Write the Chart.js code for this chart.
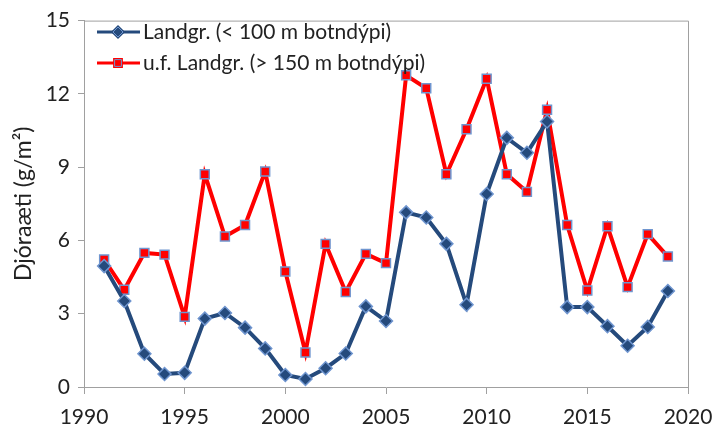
<!DOCTYPE html>
<html>
<head>
<meta charset="utf-8">
<script src="https://cdn.jsdelivr.net/npm/chart.js@4"></script>
<style>
  html, body { margin: 0; padding: 0; background: #fff; }
  #wrap { width: 716px; height: 432px; }
</style>
</head>
<body>
<div id="wrap"><canvas id="myChart" width="716" height="432"></canvas></div>
<script>
const years = [1991, 1992, 1993, 1994, 1995, 1996, 1997, 1998, 1999, 2000,
  2001, 2002, 2003, 2004, 2005, 2006, 2007, 2008, 2009, 2010,
  2011, 2012, 2013, 2014, 2015, 2016, 2017, 2018, 2019];

const shallow = [4.95, 3.52, 1.36, 0.53, 0.58, 2.8, 3.03, 2.43, 1.58, 0.49,
  0.33, 0.77, 1.37, 3.3, 2.7, 7.15, 6.94, 5.86, 3.37, 7.9,
  10.2, 9.59, 10.87, 3.27, 3.27, 2.49, 1.69, 2.46, 3.93];

const deep = [5.22, 3.98, 5.49, 5.42, 2.87, 8.71, 6.16, 6.63, 8.82, 4.73,
  1.41, 5.86, 3.89, 5.45, 5.07, 12.76, 12.23, 8.71, 10.55, 12.62,
  8.71, 7.99, 11.35, 6.63, 3.95, 6.58, 4.09, 6.26, 5.34];

const seriesLabels = ["Landgr. (< 100 m botndýpi)", "u.f. Landgr. (> 150 m botndýpi)"];
const yTitle = "Djóraæti (g/m²)";

const font = "Lato";
const blue = "#254a7c";
const red = "#ff0000";
const markerEdge = "#6f95cf";

const toPoints = (vals) => years.map((y, i) => ({ x: y, y: vals[i] }));

// frame round the plot area + legend inside it
const framePlugin = {
  id: "frame",
  afterDraw(chart) {
    const { ctx, chartArea } = chart;
    ctx.save();
    ctx.strokeStyle = "#a0a0a0";
    ctx.lineWidth = 1;
    ctx.beginPath();
    ctx.moveTo(chartArea.left, chartArea.top + 0.5);
    ctx.lineTo(chartArea.right + 0.5, chartArea.top + 0.5);
    ctx.lineTo(chartArea.right + 0.5, chartArea.bottom);
    ctx.stroke();

    const rows = [32, 63];
    chart.data.datasets.forEach((ds, i) => {
      const y = rows[i];
      ctx.strokeStyle = ds.borderColor;
      ctx.lineWidth = 3;
      ctx.beginPath();
      ctx.moveTo(97, y);
      ctx.lineTo(140, y);
      ctx.stroke();
      Chart.helpers.drawPoint(ctx, {
        pointStyle: ds.pointStyle,
        radius: ds.pointRadius - 1.5,
        borderWidth: 1,
        rotation: 0
      }, 118, y);
      ctx.fillStyle = ds.pointBackgroundColor;
      ctx.strokeStyle = ds.pointBorderColor;
      ctx.lineWidth = 1;
      ctx.fill();
      ctx.stroke();
      ctx.fillStyle = "#222";
      ctx.font = "21px " + font;
      ctx.textBaseline = "middle";
      ctx.textAlign = "left";
      ctx.fillText(ds.label, 143, y);
    });
    ctx.restore();
  }
};

const ctx = document.getElementById("myChart").getContext("2d");

const data = {
  datasets: [
    {
      label: seriesLabels[0],
      data: toPoints(shallow),
      borderColor: blue,
      borderWidth: 4,
      pointStyle: "rectRot",
      pointRadius: 6.5,
      pointBorderWidth: 1.5,
      pointBackgroundColor: blue,
      pointBorderColor: markerEdge,
      tension: 0,
    },
    {
      label: seriesLabels[1],
      data: toPoints(deep),
      borderColor: red,
      borderWidth: 4,
      pointStyle: "rect",
      pointRadius: 6.3,
      pointBorderWidth: 1.5,
      pointBackgroundColor: red,
      pointBorderColor: markerEdge,
      tension: 0,
    },
  ],
};

const config = {
  type: "line",
  data: data,
  options: {
    responsive: false,
    animation: false,
    layout: { padding: { left: 0, right: 28, top: 7, bottom: 0 } },
    plugins: {
      legend: { display: false },
      tooltip: { enabled: false },
    },
    scales: {
      x: {
        type: "linear",
        min: 1990,
        max: 2020,
        afterFit: (scale) => {
          scale.height = 45;
          scale.paddingLeft = 0;
          scale.paddingRight = 0;
        },
        ticks: {
          stepSize: 5,
          callback: (v) => v,
          color: "#222",
          font: { family: font, size: 21, lineHeight: 1 },
          padding: 13,
          maxRotation: 0,
        },
        grid: { drawOnChartArea: false, drawTicks: true, tickLength: 7, color: "#a0a0a0" },
        border: { color: "#a0a0a0" },
      },
      y: {
        min: 0,
        max: 15,
        afterFit: (scale) => { scale.width = 84; },
        ticks: {
          stepSize: 3,
          color: "#222",
          font: { family: font, size: 21 },
          padding: 8,
        },
        grid: { drawOnChartArea: false, drawTicks: true, tickLength: 6, color: "#a0a0a0" },
        border: { color: "#a0a0a0" },
        title: {
          display: true,
          text: yTitle,
          color: "#222",
          font: { family: font, size: 23 },
          padding: { top: 10, bottom: 0 },
        },
      },
    },
  },
  plugins: [framePlugin],
};

const myChart = new Chart(ctx, config);
</script>
</body>
</html>
